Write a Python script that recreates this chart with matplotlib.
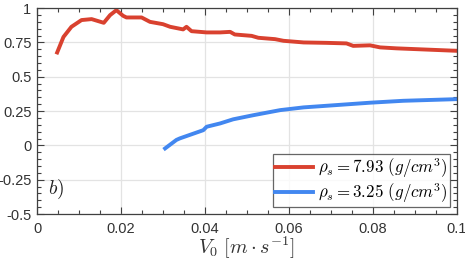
import numpy as np
import matplotlib.pyplot as plt
from matplotlib.ticker import MultipleLocator

# === DATA ===
v_red = [0.0048, 0.0063, 0.0082, 0.0106, 0.0130, 0.0159, 0.0174, 0.0189, 0.0205,
         0.0213, 0.0249, 0.0269, 0.0300, 0.0317, 0.0348, 0.0356, 0.0368, 0.0404,
         0.0436, 0.0460, 0.0471, 0.0511, 0.0527, 0.0567, 0.0587, 0.0635, 0.0690,
         0.0737, 0.0753, 0.0793, 0.0817, 0.0856, 0.0912, 0.1000]
y_red = [0.677, 0.790, 0.864, 0.913, 0.920, 0.893, 0.949, 0.985, 0.944,
         0.932, 0.932, 0.900, 0.883, 0.864, 0.845, 0.864, 0.832, 0.823,
         0.823, 0.827, 0.808, 0.798, 0.784, 0.774, 0.762, 0.750, 0.747,
         0.743, 0.725, 0.729, 0.714, 0.707, 0.700, 0.689]

v_blue = [0.0305, 0.0332, 0.0340, 0.0396, 0.0404, 0.0436, 0.0467, 0.0515, 0.0579,
          0.0635, 0.0714, 0.0793, 0.0872, 0.1000]
y_blue = [-0.022, 0.040, 0.051, 0.111, 0.136, 0.160, 0.190, 0.220, 0.257,
          0.277, 0.294, 0.311, 0.325, 0.337]

xtick_vals = [0, 0.02, 0.04, 0.06, 0.08, 0.1]
xtick_labels = ['0', '0.02', '0.04', '0.06', '0.08', '0.1']
ytick_vals = [-0.5, -0.25, 0, 0.25, 0.5, 0.75, 1]
ytick_labels = ['-0.5', '-0.25', '0', '0.25', '0.5', '0.75', '1']

labels = [r'$\rho_s = 7.93\ (g/cm^3)$', r'$\rho_s = 3.25\ (g/cm^3)$']

# === STYLE ===
plt.rcParams['mathtext.fontset'] = 'cm'
plt.rcParams['font.family'] = ['Liberation Sans', 'DejaVu Sans']

fig = plt.figure(figsize=(4.65, 2.62), dpi=100)
ax = fig.add_axes([0.0796, 0.183, 0.903, 0.786])

ax.plot(v_red, y_red, color='#d9412f', lw=2.8, label=labels[0], solid_joinstyle='round')
ax.plot(v_blue, y_blue, color='#4287f0', lw=2.8, label=labels[1], solid_joinstyle='round')

ax.set_xlim(0, 0.1)
ax.set_ylim(-0.5, 1.0)
ax.xaxis.set_minor_locator(MultipleLocator(0.005))
ax.yaxis.set_minor_locator(MultipleLocator(0.05))
ax.set_xticks(xtick_vals)
ax.set_xticklabels(xtick_labels)
ax.set_yticks(ytick_vals)
ax.set_yticklabels(ytick_labels)

ax.grid(True, which='major', color='#e3e3e3', lw=0.9)
ax.set_axisbelow(True)
ax.tick_params(which='both', direction='in', top=True, right=True,
               labelsize=10.5, colors='#404040', labelcolor='#333333')
ax.tick_params(which='major', length=5, width=0.8)
ax.tick_params(which='minor', length=3, width=0.8)
ax.tick_params(axis='x', pad=6)
ax.tick_params(axis='y', pad=4)
for s in ax.spines.values():
    s.set_color('#404040')
    s.set_linewidth(0.9)

ax.set_xlabel(r'$V_0\ [m \cdot s^{-1}]$', fontsize=14.5, color='#333333', labelpad=-1)
ax.text(0.0025, -0.24, r'$b)$', fontsize=14, color='#222222', va='top')

leg = ax.legend(loc='lower right', fontsize=12.2, frameon=True, fancybox=False,
                handlelength=2.2, handletextpad=0.3, borderpad=0.15,
                labelspacing=0.05, borderaxespad=0.4, edgecolor='#404040')
leg.get_frame().set_linewidth(0.9)

fig.savefig('out.png', dpi=100)
